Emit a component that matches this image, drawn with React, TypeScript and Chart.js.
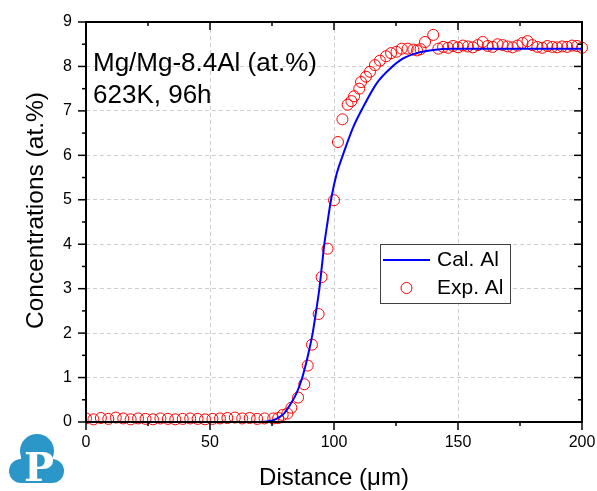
import React, { useEffect, useRef } from "react";
import { Chart, registerables } from "chart.js";

Chart.register(...registerables);

const FONT = '"Liberation Sans", Arial, sans-serif';

// Axis ranges / ticks
const xRange = [0, 200];
const yRange = [0, 9];
const xMajorStep = 50;
const xMinorStep = 25;
const yMajorStep = 1;
const yMinorStep = 0.5;

// Calculated Al profile (blue line)
const calX = [0, 70, 73, 76, 78, 80, 82, 85, 87.2, 89.3, 91.4, 92.8, 94.1, 95.1, 96.1, 97.4, 98.8, 101.1, 103.8, 107.8, 111.8, 117.2, 122.6, 127.9, 133.3, 140, 147, 200];
const calY = [0, 0, 0.01, 0.05, 0.11, 0.2, 0.36, 0.66, 1.0, 1.45, 2.0, 2.5, 3.0, 3.5, 4.0, 4.5, 5.0, 5.59, 6.04, 6.64, 7.09, 7.62, 7.95, 8.18, 8.3, 8.37, 8.4, 8.4];

// Experimental Al (red open circles)
const expX = [
  0, 3, 6, 9, 12, 15, 18, 21, 24, 27, 30, 33, 36, 39, 42, 45, 48, 51, 54, 57, 60, 63, 66, 69, 72,
  75.5, 77.5, 79.3, 81.2, 82.8, 85.5, 88.0, 89.4, 91.1, 93.8, 95.0, 97.4, 100.0,
  101.6, 103.4, 105.5, 107.0, 108.1, 110.2, 110.9, 112.9, 114.5, 116.5, 118.5, 121.0, 123.0, 125.2, 127.3, 129.7, 132.0, 133.5, 134.9, 136.7, 140.0, 142.1,
  144, 146, 148, 150, 152, 154, 156, 158, 160, 162, 164, 166, 168, 170, 172, 174, 176, 178, 180, 182, 184, 186, 188, 190, 192, 194, 196, 198, 200,
];
const expY = [
  0.08, 0.06, 0.09, 0.07, 0.1, 0.08, 0.06, 0.08, 0.07, 0.06, 0.08, 0.07, 0.06, 0.07, 0.08, 0.07, 0.06, 0.07, 0.08, 0.09, 0.1, 0.08, 0.09, 0.07, 0.08,
  0.08, 0.09, 0.16, 0.19, 0.32, 0.55, 0.85, 1.27, 1.74, 2.43, 3.26, 3.9, 4.99,
  6.3, 6.81, 7.14, 7.22, 7.33, 7.5, 7.65, 7.77, 7.88, 8.03, 8.13, 8.23, 8.3, 8.33, 8.4, 8.4, 8.38, 8.36, 8.39, 8.55, 8.71, 8.4,
  8.44, 8.42, 8.46, 8.43, 8.47, 8.45, 8.43, 8.48, 8.55, 8.46, 8.44, 8.5, 8.48, 8.45, 8.43, 8.47, 8.53, 8.57, 8.48, 8.44, 8.42, 8.46, 8.44, 8.43, 8.45, 8.44, 8.47, 8.46, 8.42,
];

const legendLabels = ["Cal. Al", "Exp. Al"];
const noteLines = ["Mg/Mg-8.4Al (at.%)", "623K, 96h"];
const xTitle = "Distance (\u03bcm)";
const yTitle = "Concentrations (at.%)";

const LINE_COLOR = "#0000ff";
const POINT_COLOR = "#ff0000";

const overlayPlugin = {
  id: "overlay",
  afterDraw(chart: any) {
    const { ctx, chartArea: a, scales } = chart;
    const xs = scales.x;
    const ys = scales.y;
    ctx.save();

    // ticks
    ctx.strokeStyle = "#000";
    ctx.lineWidth = 1.5;
    const seg = (x1: number, y1: number, x2: number, y2: number) => {
      ctx.beginPath();
      ctx.moveTo(x1, y1);
      ctx.lineTo(x2, y2);
      ctx.stroke();
    };
    for (let v = xRange[0]; v <= xRange[1] + 1e-9; v += xMinorStep) {
      const px = xs.getPixelForValue(v);
      const len = Math.abs(v % xMajorStep) < 1e-9 ? 8 : 4;
      seg(px, a.bottom, px, a.bottom + len);
      seg(px, a.top, px, a.top + len);
    }
    for (let v = yRange[0]; v <= yRange[1] + 1e-9; v += yMinorStep) {
      const py = ys.getPixelForValue(v);
      const len = Math.abs(v % yMajorStep) < 1e-9 ? 8 : 4;
      seg(a.left - len, py, a.left, py);
      seg(a.right - len, py, a.right, py);
    }

    // frame
    ctx.lineWidth = 2;
    ctx.strokeRect(a.left, a.top, a.right - a.left, a.bottom - a.top);

    // axis titles
    ctx.fillStyle = "#000";
    ctx.font = `24px ${FONT}`;
    ctx.textAlign = "center";
    ctx.textBaseline = "alphabetic";
    ctx.fillText(xTitle, (a.left + a.right) / 2, 485);
    ctx.save();
    ctx.translate(43, 329);
    ctx.rotate(-Math.PI / 2);
    ctx.textAlign = "left";
    ctx.font = `24.5px ${FONT}`;
    ctx.fillText(yTitle, 0, 0);
    ctx.restore();

    // annotation
    ctx.font = `26px ${FONT}`;
    ctx.textAlign = "left";
    ctx.fillText(noteLines[0], 93, 71);
    ctx.fillText(noteLines[1], 93, 103);

    // legend
    ctx.fillStyle = "#fff";
    ctx.fillRect(380.5, 244.5, 130, 59);
    ctx.strokeStyle = "#404040";
    ctx.lineWidth = 1;
    ctx.strokeRect(380.5, 244.5, 130, 59);
    ctx.strokeStyle = LINE_COLOR;
    ctx.lineWidth = 2;
    seg(383, 260, 430, 260);
    ctx.strokeStyle = POINT_COLOR;
    ctx.lineWidth = 1;
    ctx.beginPath();
    ctx.arc(406.5, 288, 5.5, 0, Math.PI * 2);
    ctx.stroke();
    ctx.fillStyle = "#000";
    ctx.font = `21px ${FONT}`;
    ctx.fillText(legendLabels[0], 437, 266);
    ctx.fillText(legendLabels[1], 437, 294);

    // logo
    ctx.fillStyle = "#2b96c8";
    ctx.beginPath();
    ctx.arc(37, 451, 17, 0, Math.PI * 2);
    ctx.fill();
    ctx.beginPath();
    ctx.arc(21, 471, 12, 0, Math.PI * 2);
    ctx.fill();
    ctx.beginPath();
    ctx.arc(52, 471, 12, 0, Math.PI * 2);
    ctx.fill();
    ctx.fillRect(21, 455, 31, 28);
    ctx.fillStyle = "#fff";
    ctx.font = `bold 40px "DejaVu Serif", serif`;
    ctx.textAlign = "center";
    ctx.fillText("P", 39, 481);

    ctx.restore();
  },
};

export default function App() {
  const ref = useRef<HTMLCanvasElement | null>(null);

  useEffect(() => {
    if (!ref.current) return;
    const calData = calX.map((x, i) => ({ x, y: calY[i] }));
    const expData = expX.map((x, i) => ({ x, y: expY[i] }));
    const gridColor = (ctx: any) => {
      const v = ctx.tick ? ctx.tick.value : 0;
      const s = ctx.scale;
      return v <= s.min || v >= s.max ? "rgba(0,0,0,0)" : "#cfcfcf";
    };
    const chart = new Chart(ref.current, {
      type: "scatter",
      data: {
        datasets: [
          {
            type: "line",
            label: legendLabels[0],
            data: calData,
            borderColor: LINE_COLOR,
            borderWidth: 2,
            pointRadius: 0,
            fill: false,
            cubicInterpolationMode: "monotone",
            order: 0,
            clip: 4,
          } as any,
          {
            type: "scatter",
            label: legendLabels[1],
            data: expData,
            borderColor: POINT_COLOR,
            backgroundColor: "rgba(0,0,0,0)",
            borderWidth: 1,
            pointRadius: 5.5,
            pointHoverRadius: 5.5,
            order: 1,
            clip: { left: 0, top: 10, right: 10, bottom: 10 },
          } as any,
        ],
      },
      options: {
        animation: false,
        responsive: false,
        devicePixelRatio: 1,
        events: [],
        layout: { padding: { left: 0, top: 22, right: 15, bottom: 0 } },
        plugins: { legend: { display: false }, tooltip: { enabled: false } },
        scales: {
          x: {
            type: "linear",
            min: xRange[0],
            max: xRange[1],
            afterFit: (s: any) => {
              s.height = 69;
              s.paddingLeft = 0;
              s.paddingRight = 0;
            },
            ticks: {
              stepSize: xMajorStep,
              color: "#000",
              font: { family: FONT, size: 16 },
              padding: 11,
              maxRotation: 0,
              autoSkip: false,
            },
            grid: { color: gridColor, lineWidth: 1, drawTicks: false },
            border: { display: false, dash: [4, 3] },
          },
          y: {
            type: "linear",
            min: yRange[0],
            max: yRange[1],
            afterFit: (s: any) => {
              s.width = 86;
              s.paddingTop = 0;
              s.paddingBottom = 0;
            },
            ticks: {
              stepSize: yMajorStep,
              color: "#000",
              font: { family: FONT, size: 16 },
              padding: 14,
              autoSkip: false,
            },
            grid: { color: gridColor, lineWidth: 1, drawTicks: false },
            border: { display: false, dash: [4, 3] },
          },
        },
      } as any,
      plugins: [overlayPlugin],
    });
    return () => chart.destroy();
  }, []);

  return (
    <div style={{ position: "absolute", left: 0, top: 0, width: 597, height: 491, background: "#fff" }}>
      <canvas ref={ref} width={597} height={491} style={{ display: "block" }} />
    </div>
  );
}
